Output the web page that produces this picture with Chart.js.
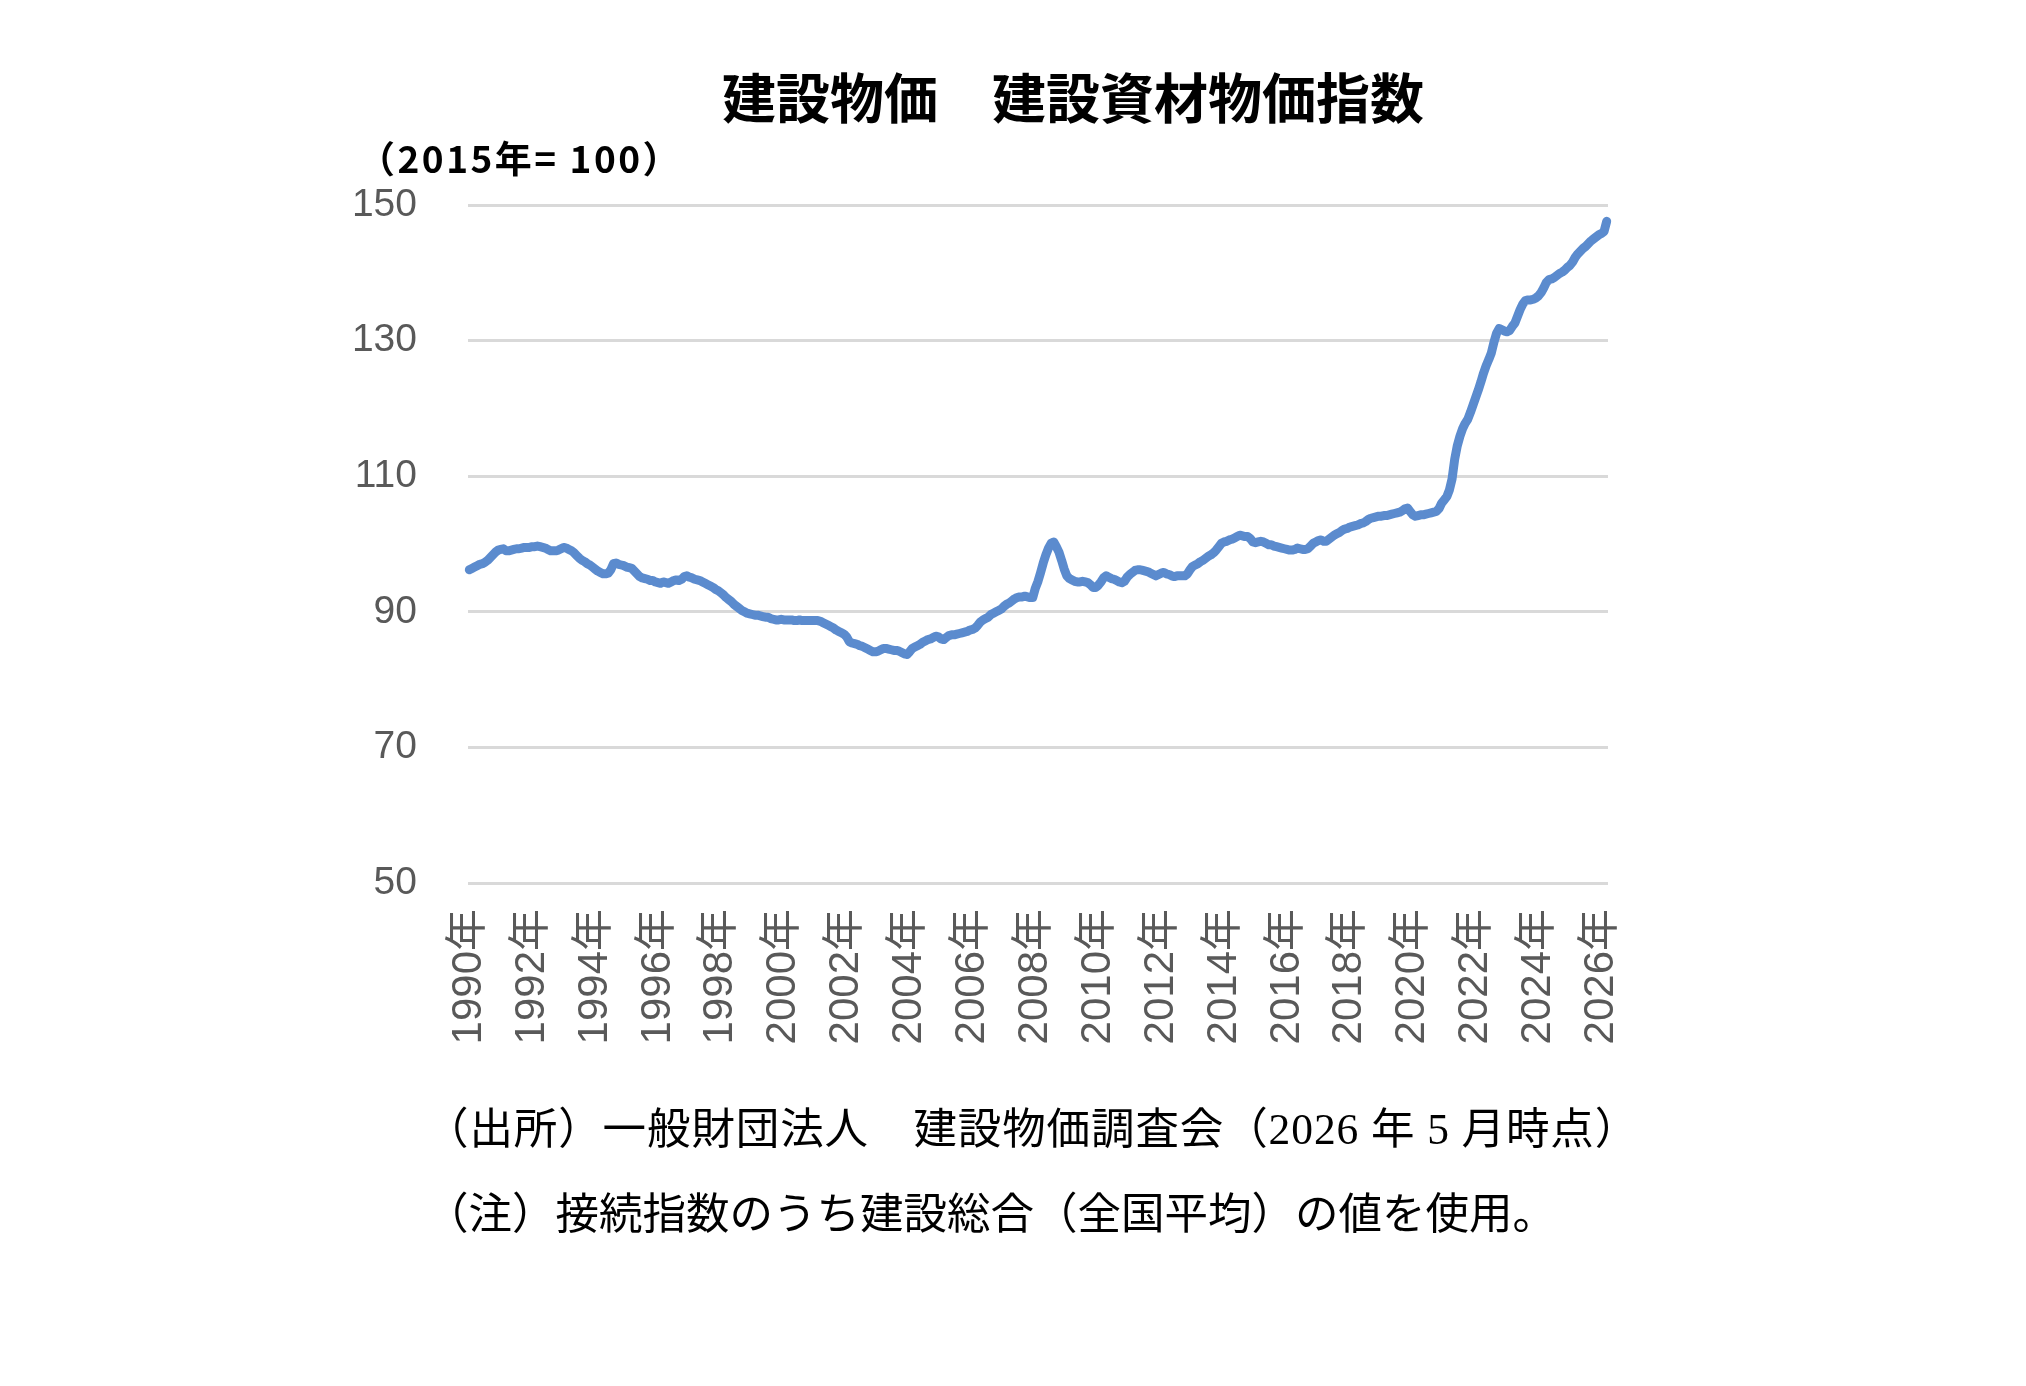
<!DOCTYPE html>
<html lang="ja">
<head>
<meta charset="utf-8">
<script src="https://cdn.jsdelivr.net/npm/chart.js@4.4.1/dist/chart.umd.min.js"></script>
<style>
  html, body { margin: 0; padding: 0; background: #ffffff; }
  body { width: 2026px; height: 1386px; position: relative; overflow: hidden; }
  #wrap { position: absolute; left: 0; top: 0; width: 2026px; height: 1386px; }
  .txt { position: absolute; white-space: pre; line-height: 1; color: #000; }
  #title { left: 0; width: 2146px; top: 69px; text-align: center; font-family: "Noto Sans CJK JP", sans-serif; font-weight: 700; font-size: 54px; }
  #unit { left: 358px; top: 139px; font-family: "Noto Sans CJK JP", sans-serif; font-weight: 700; font-size: 37px; letter-spacing: 2.5px; }
  .note { left: 425px; font-family: "Liberation Serif", "Noto Sans CJK JP", serif; font-weight: 400; font-size: 43.5px; }
  #note1 { top: 1108px; letter-spacing: 0.9px; }
  #note2 { top: 1193px; }
</style>
</head>
<body>
<div id="wrap"><canvas id="c" width="2026" height="1386"></canvas></div>
<div class="txt" id="title">建設物価　建設資材物価指数</div>
<div class="txt" id="unit">（2015年= 100）</div>
<div class="txt note" id="note1">（出所）一般財団法人　建設物価調査会（2026 年 5 月時点）</div>
<div class="txt note" id="note2">（注）接続指数のうち建設総合（全国平均）の値を使用。</div>
<script>
// Monthly values, Jan 1990 - Mar 2026 (2015 = 100)
const values1990s = [
  96.2, 96.4, 96.6, 96.8, 97.0, 97.1, 97.3, 97.6, 98.0, 98.4, 98.8, 99.1, // 1990
  99.2, 99.3, 99.0, 99.0, 99.1, 99.2, 99.3, 99.3, 99.4, 99.5, 99.5, 99.5, // 1991
  99.6, 99.6, 99.7, 99.6, 99.5, 99.4, 99.2, 99.0, 99.0, 99.0, 99.1, 99.3, // 1992
  99.5, 99.4, 99.2, 99.0, 98.7, 98.3, 97.9, 97.6, 97.4, 97.1, 96.9, 96.6, // 1993
  96.3, 96.0, 95.8, 95.6, 95.6, 95.7, 96.2, 97.1, 97.2, 97.0, 96.9, 96.8, // 1994
  96.6, 96.5, 96.4, 96.0, 95.6, 95.2, 95.0, 94.9, 94.8, 94.6, 94.6, 94.4, // 1995
  94.3, 94.2, 94.4, 94.3, 94.2, 94.4, 94.6, 94.7, 94.6, 94.8, 95.2, 95.3, // 1996
  95.1, 95.0, 94.8, 94.7, 94.6, 94.4, 94.2, 94.0, 93.8, 93.6, 93.3, 93.1, // 1997
  92.8, 92.5, 92.1, 91.8, 91.5, 91.1, 90.8, 90.5, 90.2, 90.0, 89.8, 89.7, // 1998
  89.6, 89.5, 89.5, 89.4, 89.3, 89.2, 89.2, 89.0, 88.9, 88.8, 88.8, 88.9  // 1999
];
const values2000s = [
  88.8, 88.8, 88.8, 88.8, 88.7, 88.7, 88.8, 88.7, 88.7, 88.7, 88.7, 88.7, // 2000
  88.7, 88.7, 88.6, 88.4, 88.2, 88.0, 87.8, 87.6, 87.3, 87.1, 86.9, 86.7, // 2001
  86.3, 85.6, 85.4, 85.3, 85.2, 85.0, 84.9, 84.7, 84.5, 84.3, 84.1, 84.1, // 2002
  84.2, 84.4, 84.6, 84.6, 84.5, 84.4, 84.3, 84.3, 84.2, 84.0, 83.8, 83.7, // 2003
  84.1, 84.6, 84.8, 85.0, 85.2, 85.5, 85.7, 85.9, 86.0, 86.2, 86.4, 86.3, // 2004
  86.0, 85.9, 86.2, 86.5, 86.6, 86.6, 86.7, 86.8, 86.9, 87.0, 87.1, 87.3, // 2005
  87.4, 87.6, 88.0, 88.5, 88.8, 89.0, 89.2, 89.6, 89.8, 90.0, 90.2, 90.4, // 2006
  90.8, 91.1, 91.3, 91.6, 91.9, 92.1, 92.2, 92.2, 92.3, 92.2, 92.1, 92.1, // 2007
  93.5, 94.5, 95.8, 97.2, 98.4, 99.4, 100.1, 100.3, 99.6, 98.8, 97.6, 96.3, // 2008
  95.3, 94.9, 94.7, 94.5, 94.4, 94.4, 94.5, 94.4, 94.3, 94.0, 93.6, 93.6  // 2009
];
const values2010s = [
  93.9, 94.4, 95.0, 95.3, 95.1, 94.9, 94.8, 94.6, 94.4, 94.3, 94.5, 95.1, // 2010
  95.5, 95.8, 96.1, 96.2, 96.2, 96.1, 96.0, 95.9, 95.7, 95.5, 95.3, 95.5, // 2011
  95.7, 95.8, 95.6, 95.5, 95.3, 95.2, 95.3, 95.3, 95.3, 95.3, 95.6, 96.2, // 2012
  96.7, 96.9, 97.1, 97.4, 97.6, 97.9, 98.2, 98.4, 98.7, 99.1, 99.6, 100.1, // 2013
  100.3, 100.4, 100.6, 100.7, 100.9, 101.1, 101.3, 101.2, 101.1, 101.1, 100.8, 100.3, // 2014
  100.2, 100.3, 100.4, 100.3, 100.1, 99.9, 99.9, 99.7, 99.6, 99.5, 99.4, 99.3, // 2015
  99.2, 99.1, 99.1, 99.2, 99.4, 99.3, 99.2, 99.2, 99.3, 99.7, 100.1, 100.3, // 2016
  100.5, 100.6, 100.4, 100.4, 100.7, 101.0, 101.3, 101.5, 101.7, 102.0, 102.2, 102.3, // 2017
  102.5, 102.6, 102.7, 102.8, 103.0, 103.1, 103.3, 103.6, 103.8, 103.9, 104.0, 104.1, // 2018
  104.1, 104.2, 104.2, 104.3, 104.4, 104.5, 104.6, 104.7, 104.9, 105.2, 105.3, 104.8  // 2019
];
const values2020s = [
  104.3, 104.1, 104.2, 104.3, 104.3, 104.4, 104.5, 104.6, 104.7, 104.8, 105.2, 106.0, // 2020
  106.5, 107.0, 108.0, 109.6, 112.5, 114.5, 115.9, 117.0, 117.8, 118.4, 119.4, 120.5, // 2021
  121.6, 122.7, 123.9, 125.2, 126.3, 127.2, 128.2, 129.8, 131.1, 131.8, 131.6, 131.4, // 2022
  131.3, 131.5, 132.1, 132.6, 133.6, 134.6, 135.4, 135.9, 136.0, 136.0, 136.1, 136.3, // 2023
  136.6, 137.1, 137.8, 138.6, 139.0, 139.1, 139.3, 139.6, 139.9, 140.1, 140.4, 140.8, // 2024
  141.1, 141.6, 142.3, 142.8, 143.2, 143.6, 143.9, 144.3, 144.7, 145.0, 145.3, 145.6, // 2025
  145.8, 146.1, 147.6                                                                 // 2026 (Jan-Mar)
];
const indexValues = [...values1990s, ...values2000s, ...values2010s, ...values2020s];

const startYear = 1990;
// tick labels on the x axis (January of every second year)
const tickYears = [1990, 1992, 1994, 1996, 1998, 2000, 2002, 2004, 2006, 2008,
                   2010, 2012, 2014, 2016, 2018, 2020, 2022, 2024, 2026];
const tickSuffix = '年';
// y axis ticks
const yMin = 50, yMax = 150, yStep = 20;

// month categories
const categories = indexValues.map((_, i) => {
  const y = startYear + Math.floor(i / 12);
  const m = (i % 12) + 1;
  return y + '年' + m + '月';
});

const yFont = { family: '"Liberation Sans", "Noto Sans CJK JP", sans-serif', size: 39 };
const xFont = { family: '"Liberation Sans", "Noto Sans CJK JP", sans-serif', size: 42 };

new Chart(document.getElementById('c'), {
  type: 'line',
  data: {
    labels: categories,
    datasets: [{
      data: indexValues,
      borderColor: '#5b8bce',
      borderWidth: 9,
      pointRadius: 0,
      pointHoverRadius: 0,
      tension: 0,
      borderJoinStyle: 'round',
      borderCapStyle: 'round',
      fill: false
    }]
  },
  options: {
    responsive: false,
    devicePixelRatio: 1,
    animation: false,
    events: [],
    layout: { padding: { left: 0, top: 205, right: 418, bottom: 303 } },
    plugins: { legend: { display: false }, tooltip: { enabled: false }, title: { display: false } },
    scales: {
      x: {
        type: 'category',
        offset: true,
        grid: { display: false, drawTicks: false },
        border: { display: false },
        ticks: {
          autoSkip: false,
          minRotation: 90,
          maxRotation: 90,
          padding: 26,
          color: '#595959',
          font: xFont,
          callback: function (val, idx) {
            const y = startYear + Math.floor(idx / 12);
            if (idx % 12 === 0 && tickYears.includes(y)) return y + tickSuffix;
            return null;
          }
        },
        afterFit: s => { s.height = 200; }
      },
      y: {
        min: yMin,
        max: yMax,
        ticks: { stepSize: yStep, padding: 51, color: '#595959', font: yFont },
        grid: { color: '#d9d9d9', lineWidth: 3, drawTicks: false },
        border: { display: false },
        afterFit: s => { s.width = 468; }
      }
    }
  }
});
</script>
</body>
</html>
